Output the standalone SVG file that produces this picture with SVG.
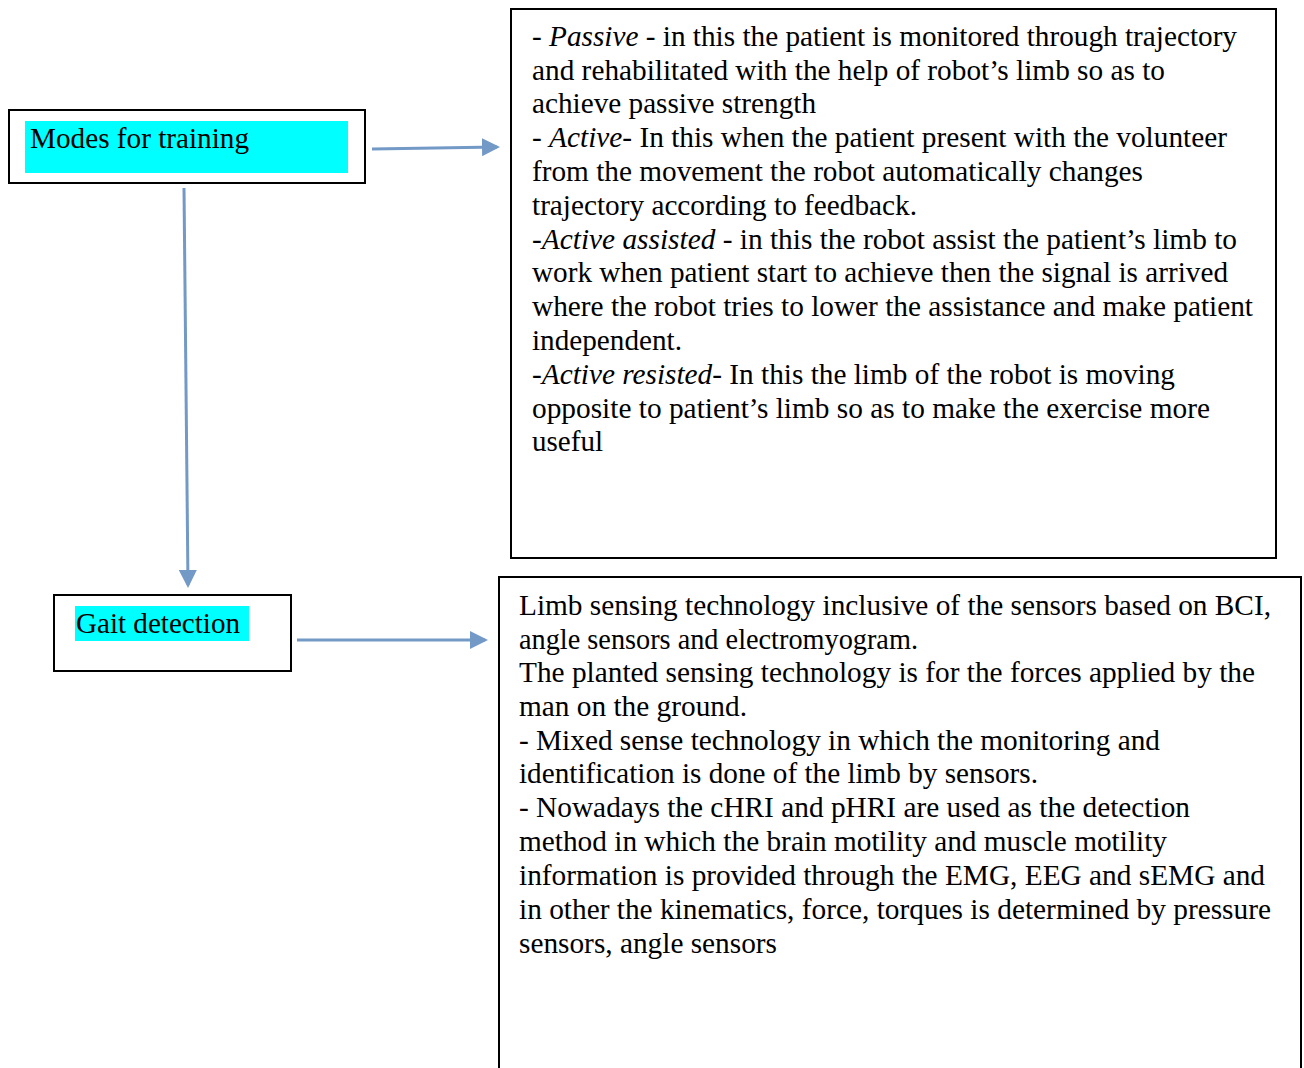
<svg xmlns="http://www.w3.org/2000/svg" width="1304" height="1068" viewBox="0 0 1304 1068">
<defs>
<style>
.box{fill:#fff;stroke:#000;stroke-width:2}
.hl{fill:#00ffff}
.i{font-style:italic}
.c{stroke:#7399c6;stroke-width:3;fill:none;marker-end:url(#ah)}
</style>
<marker id="ah" markerWidth="6" markerHeight="6" refX="5" refY="3" orient="auto" markerUnits="strokeWidth">
<path d="M0,0 L6,3 L0,6 Z" fill="#7399c6"/>
</marker>
</defs>
<rect width="1304" height="1068" fill="#fff"/>
<g id="connectors">
<line class="c" x1="372" y1="149" x2="497" y2="147"/>
<line class="c" x1="184" y1="188" x2="188" y2="585"/>
<line class="c" x1="297" y1="640" x2="485" y2="640"/>
</g>
<g id="modes">
<rect class="box" x="9" y="110" width="356" height="73"/>
<rect class="hl" x="25" y="121" width="323" height="52"/>
<text font-family="Liberation Serif" font-size="29" x="30" y="148" textLength="219" lengthAdjust="spacingAndGlyphs">Modes for training</text>
</g>
<g id="gait">
<rect class="box" x="54" y="595" width="237" height="76"/>
<rect class="hl" x="75" y="606" width="174" height="35"/>
<text font-family="Liberation Serif" font-size="29" x="76" y="633" textLength="164" lengthAdjust="spacingAndGlyphs">Gait detection</text>
</g>
<g id="modes-desc">
<rect class="box" x="511" y="9" width="765" height="549"/>
<text font-family="Liberation Serif" font-size="29" x="532" y="46" textLength="705" lengthAdjust="spacingAndGlyphs">- <tspan class="i">Passive</tspan> - in this the patient is monitored through trajectory</text>
<text font-family="Liberation Serif" font-size="29" x="532" y="80" textLength="633" lengthAdjust="spacingAndGlyphs">and rehabilitated with the help of robot’s limb so as to</text>
<text font-family="Liberation Serif" font-size="29" x="532" y="113" textLength="284" lengthAdjust="spacingAndGlyphs">achieve passive strength</text>
<text font-family="Liberation Serif" font-size="29" x="532" y="147" textLength="695" lengthAdjust="spacingAndGlyphs">- <tspan class="i">Active</tspan>- In this when the patient present with the volunteer</text>
<text font-family="Liberation Serif" font-size="29" x="532" y="181" textLength="611" lengthAdjust="spacingAndGlyphs">from the movement the robot automatically changes</text>
<text font-family="Liberation Serif" font-size="29" x="532" y="215" textLength="385" lengthAdjust="spacingAndGlyphs">trajectory according to feedback.</text>
<text font-family="Liberation Serif" font-size="29" x="532" y="249" textLength="705" lengthAdjust="spacingAndGlyphs">-<tspan class="i">Active assisted</tspan> - in this the robot assist the patient’s limb to</text>
<text font-family="Liberation Serif" font-size="29" x="532" y="282" textLength="696" lengthAdjust="spacingAndGlyphs">work when patient start to achieve then the signal is arrived</text>
<text font-family="Liberation Serif" font-size="29" x="532" y="316" textLength="721" lengthAdjust="spacingAndGlyphs">where the robot tries to lower the assistance and make patient</text>
<text font-family="Liberation Serif" font-size="29" x="532" y="350" textLength="150" lengthAdjust="spacingAndGlyphs">independent.</text>
<text font-family="Liberation Serif" font-size="29" x="532" y="384" textLength="643" lengthAdjust="spacingAndGlyphs">-<tspan class="i">Active resisted</tspan>- In this the limb of the robot is moving</text>
<text font-family="Liberation Serif" font-size="29" x="532" y="418" textLength="678" lengthAdjust="spacingAndGlyphs">opposite to patient’s limb so as to make the exercise more</text>
<text font-family="Liberation Serif" font-size="29" x="532" y="451" textLength="71" lengthAdjust="spacingAndGlyphs">useful</text>
</g>
<g id="gait-desc">
<rect class="box" x="499" y="577" width="802" height="500"/>
<text font-family="Liberation Serif" font-size="29" x="519" y="615" textLength="752" lengthAdjust="spacingAndGlyphs">Limb sensing technology inclusive of the sensors based on BCI,</text>
<text font-family="Liberation Serif" font-size="29" x="519" y="649" textLength="399" lengthAdjust="spacingAndGlyphs">angle sensors and electromyogram.</text>
<text font-family="Liberation Serif" font-size="29" x="519" y="682" textLength="736" lengthAdjust="spacingAndGlyphs">The planted sensing technology is for the forces applied by the</text>
<text font-family="Liberation Serif" font-size="29" x="519" y="716" textLength="228" lengthAdjust="spacingAndGlyphs">man on the ground.</text>
<text font-family="Liberation Serif" font-size="29" x="519" y="750" textLength="641" lengthAdjust="spacingAndGlyphs">- Mixed sense technology in which the monitoring and</text>
<text font-family="Liberation Serif" font-size="29" x="519" y="783" textLength="519" lengthAdjust="spacingAndGlyphs">identification is done of the limb by sensors.</text>
<text font-family="Liberation Serif" font-size="29" x="519" y="817" textLength="671" lengthAdjust="spacingAndGlyphs">- Nowadays the cHRI and pHRI are used as the detection</text>
<text font-family="Liberation Serif" font-size="29" x="519" y="851" textLength="648" lengthAdjust="spacingAndGlyphs">method in which the brain motility and muscle motility</text>
<text font-family="Liberation Serif" font-size="29" x="519" y="885" textLength="746" lengthAdjust="spacingAndGlyphs">information is provided through the EMG, EEG and sEMG and</text>
<text font-family="Liberation Serif" font-size="29" x="519" y="919" textLength="752" lengthAdjust="spacingAndGlyphs">in other the kinematics, force, torques is determined by pressure</text>
<text font-family="Liberation Serif" font-size="29" x="519" y="953" textLength="258" lengthAdjust="spacingAndGlyphs">sensors, angle sensors</text>
</g>
</svg>
